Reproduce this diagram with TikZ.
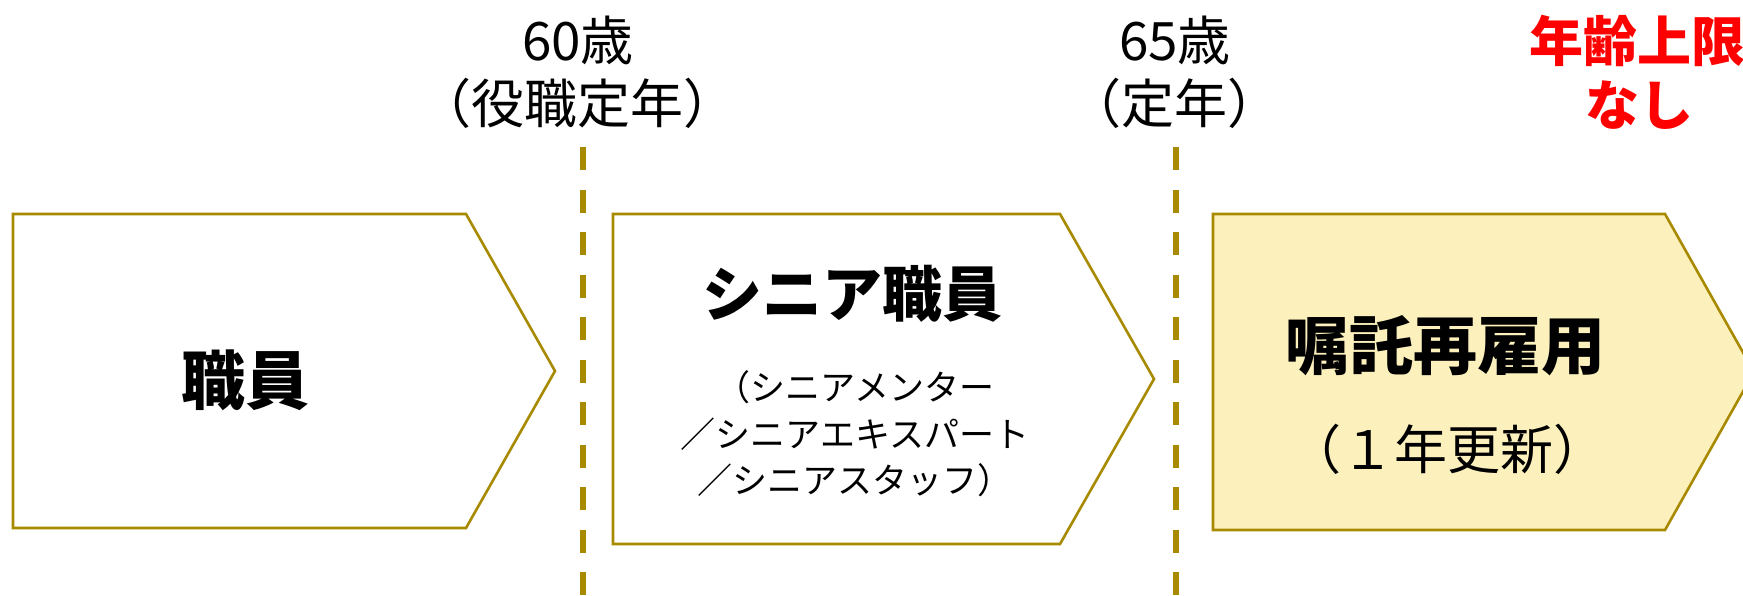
\documentclass[tikz,border=0pt]{standalone}
\usepackage{fontspec}
\setmainfont{Noto Sans CJK JP}
\definecolor{gold}{HTML}{A88A00}
\definecolor{paleyellow}{HTML}{FCF1BC}
\definecolor{alertred}{HTML}{FF0000}
\begin{document}
\begin{tikzpicture}[x=1pt,y=-1pt,
  stage/.style={draw=gold,line width=2.6pt,line join=miter},
  divider/.style={draw=gold,line width=6pt,dash pattern=on 23pt off 19.5pt},
  age/.style={font=\fontsize{53}{60}\selectfont,inner sep=0pt},
  title/.style={font=\fontsize{64}{70}\selectfont\bfseries,inner sep=0pt},
  sub/.style={font=\fontsize{35}{46.5}\selectfont,inner sep=0pt,align=center},
  limit/.style={font=\fontsize{54}{60}\selectfont\bfseries,text=alertred,inner sep=0pt}]
\useasboundingbox (0,0) rectangle (1743,595);
\fill[white] (0,0) rectangle (1743,595);
% stage shapes
\coordinate (a1) at (13,214); \coordinate (a2) at (466,214); \coordinate (a3) at (555,371);
\coordinate (a4) at (466,528); \coordinate (a5) at (13,528);
\draw[stage,fill=white] (a1) -- (a2) -- (a3) -- (a4) -- (a5) -- cycle;
\coordinate (b1) at (613,214); \coordinate (b2) at (1060,214); \coordinate (b3) at (1154,379);
\coordinate (b4) at (1060,544); \coordinate (b5) at (613,544);
\draw[stage,fill=white] (b1) -- (b2) -- (b3) -- (b4) -- (b5) -- cycle;
\coordinate (c1) at (1213,214); \coordinate (c2) at (1665,214); \coordinate (c3) at (1754,372);
\coordinate (c4) at (1665,530); \coordinate (c5) at (1213,530);
\draw[stage,fill=paleyellow] (c1) -- (c2) -- (c3) -- (c4) -- (c5) -- cycle;
% dividers
\coordinate (d1t) at (583,147); \coordinate (d1b) at (583,600);
\coordinate (d2t) at (1176,147); \coordinate (d2b) at (1176,600);
\draw[divider] (d1t) -- (d1b);
\draw[divider] (d2t) -- (d2b);
% age labels
\node[age] (age60) at (578,40) {60歳};
\node[age] (age60b) at (577,103) {（役職定年）};
\node[age] (age65) at (1175,40) {65歳};
\node[age] (age65b) at (1174,103) {（定年）};
\node[limit] (lim1) at (1637,41) {年齢上限};
\node[limit] (lim2) at (1639,105) {なし};
% stage texts
\node[title] (staff) at (245,380) {職員};
\node[title,font=\fontsize{60}{66}\selectfont\bfseries] (senior) at (852,294) {シニア職員};
\node[sub] (seniorsub) at (855,434) {（シニアメンター\\／シニアエキスパート\\／シニアスタッフ）};
\node[title] (contract) at (1445,346) {嘱託再雇用};
\node[age] (renew) at (1447,449) {（１年更新）};
\end{tikzpicture}
\end{document}
